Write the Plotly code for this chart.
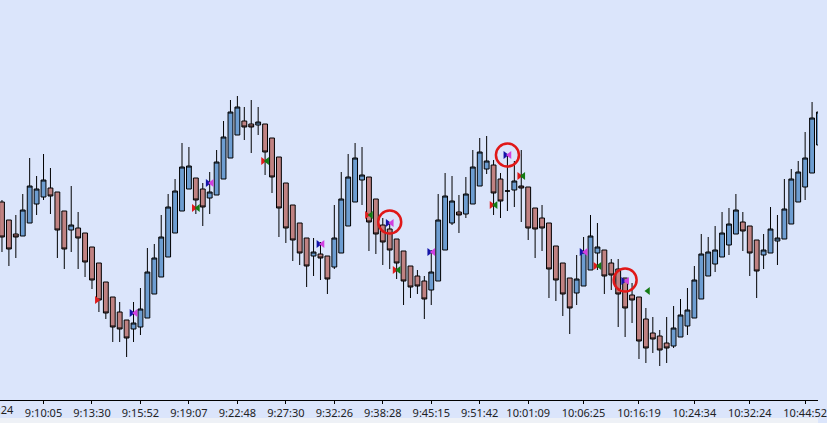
import plotly.graph_objects as go

# --- bougies (prix) ---
bars = list(range(119))
open_ = [198, 180, 166, 164, 177, 196, 203, 212, 208, 189, 170, 172, 167, 153, 137, 118, 103, 88, 80, 71,
         73, 82, 106, 123, 143, 167, 189, 211, 222, 211, 202, 205, 221, 242, 265, 279, 276, 275, 276, 262,
         243, 217, 195, 177, 162, 144, 146, 144, 133, 147, 174, 198, 220, 223, 201, 175, 171, 161, 149, 134,
         124, 119, 110, 119, 150, 177, 188, 186, 196, 214, 231, 235, 221, 209, 210, 214, 213, 192, 182, 177,
         154, 137, 122, 107, 114, 130, 147, 150, 137, 131, 122, 105, 103, 81, 67, 64, 57, 54, 63, 74,
         82, 101, 124, 136, 143, 155, 166, 178, 174, 160, 145, 147, 159, 161, 176, 198, 213, 227, 255]
high = [200, 180, 185, 206, 242, 224, 246, 232, 208, 189, 214, 188, 167, 153, 137, 118, 103, 98, 80, 98,
        112, 152, 156, 185, 206, 221, 257, 253, 222, 217, 228, 250, 279, 300, 304, 293, 300, 293, 276, 262,
        243, 217, 195, 177, 162, 162, 158, 144, 195, 228, 246, 257, 253, 223, 201, 182, 178, 161, 149, 134,
        130, 124, 150, 206, 227, 224, 205, 223, 250, 262, 264, 240, 227, 245, 239, 250, 213, 192, 195, 177,
        154, 137, 122, 145, 163, 185, 177, 150, 141, 141, 122, 117, 103, 92, 83, 70, 83, 94, 101, 112,
        134, 166, 163, 174, 188, 192, 206, 188, 174, 160, 166, 193, 185, 221, 231, 239, 268, 298, 300]
low = [148, 134, 142, 164, 177, 185, 200, 186, 142, 131, 148, 131, 123, 111, 88, 81, 58, 58, 43, 58,
       65, 82, 106, 123, 143, 167, 189, 211, 186, 174, 186, 205, 221, 242, 265, 260, 247, 265, 225, 207,
       163, 157, 139, 135, 113, 124, 120, 106, 131, 147, 174, 198, 195, 149, 146, 135, 131, 121, 95, 102,
       106, 81, 95, 119, 150, 175, 167, 182, 196, 214, 226, 185, 182, 189, 193, 178, 160, 142, 149, 102,
       99, 84, 66, 95, 114, 130, 130, 106, 110, 73, 63, 77, 41, 37, 47, 34, 37, 52, 63, 65,
       82, 101, 124, 128, 143, 145, 166, 149, 124, 102, 131, 147, 135, 161, 176, 198, 200, 227, 255]
close = [163, 151, 163, 190, 214, 211, 220, 204, 170, 151, 175, 162, 138, 120, 100, 87, 73, 71, 62, 77,
         91, 128, 142, 163, 193, 209, 233, 234, 200, 193, 208, 238, 263, 288, 293, 273, 273, 278, 248, 223,
         192, 172, 160, 147, 134, 148, 142, 121, 162, 201, 223, 242, 225, 178, 166, 158, 150, 137, 119, 113,
         114, 101, 128, 180, 204, 199, 185, 206, 233, 248, 239, 207, 199, 209, 219, 212, 172, 171, 172, 131,
         120, 106, 92, 121, 148, 164, 153, 124, 125, 106, 92, 100, 59, 52, 61, 50, 52, 72, 85, 90,
         120, 146, 148, 150, 167, 176, 190, 169, 147, 129, 150, 171, 162, 191, 221, 228, 242, 282, 288]

# --- signaux ---
rg_bars = [28, 38, 53, 57, 71, 75, 86]
rg_price = [192, 239, 185, 130, 195, 224, 134]
red_only_bars = [14]
red_only_price = [100]
green_only_bars = [93]
green_only_price = [109]
bm_bars = [19, 30, 46, 56, 62, 73, 84, 90]
bm_price = [87, 217, 156, 177, 148, 245, 148, 119]
circle_bars = [56, 73, 90]
circle_price = [178, 245, 120]

# --- axe des temps ---
tick_bars = [6, 13, 20, 27, 34, 41, 48, 55, 62, 69, 76, 84, 92, 100, 108, 116]
tick_labels = ["9:10:05", "9:13:30", "9:15:52", "9:19:07", "9:22:48", "9:27:30", "9:32:26", "9:38:28",
               "9:45:15", "9:51:42", "10:01:09", "10:06:25", "10:16:19", "10:24:34", "10:32:24", "10:44:52"]
first_tick_bar = -1
first_tick_label = "9:07:24"

BG = "#dbe5fb"
FONT = dict(family="Noto Sans, Open Sans, sans-serif", size=11, color="#222222")
OFF = 0.3
x_range = [-2 / 7, 825 / 7]

fig = go.Figure()
fig.add_trace(go.Candlestick(
    x=bars, open=open_, high=high, low=low, close=close,
    increasing=dict(fillcolor="#6d9dd1", line=dict(color="black", width=1)),
    decreasing=dict(fillcolor="#c08282", line=dict(color="black", width=1)),
    whiskerwidth=0, hoverinfo="skip", showlegend=False,
))


def tri(xs, ys, symbol, color):
    fig.add_trace(go.Scatter(x=xs, y=ys, mode="markers", hoverinfo="skip", showlegend=False,
                             marker=dict(symbol=symbol, size=7, color=color, line=dict(width=0))))


tri([b - OFF for b in rg_bars], rg_price, "triangle-right", "#e01b1b")
tri([b + OFF for b in rg_bars], rg_price, "triangle-left", "#137a13")
tri([b - OFF for b in red_only_bars], red_only_price, "triangle-right", "#e01b1b")
tri([b + OFF for b in green_only_bars], green_only_price, "triangle-left", "#137a13")
tri([b - OFF for b in bm_bars], bm_price, "triangle-right", "#1414a8")
tri([b + OFF for b in bm_bars], bm_price, "triangle-left", "#d040e0")

fig.add_trace(go.Scatter(
    x=circle_bars, y=circle_price, mode="markers", hoverinfo="skip", showlegend=False,
    marker=dict(symbol="circle-open", size=23, color="#e01818", line=dict(width=2.5, color="#e01818")),
))

fig.add_annotation(
    x=(first_tick_bar - x_range[0]) / (x_range[1] - x_range[0]), xref="paper",
    y=-0.025, yref="paper", text=first_tick_label, showarrow=False,
    xanchor="center", yanchor="middle", font=FONT,
)
fig.add_shape(type="rect", xref="paper", yref="paper", x0=0, x1=1, y0=-0.2, y1=-0.045,
              fillcolor="#eef1f6", line=dict(width=0), layer="below")

fig.update_layout(
    width=827, height=423,
    margin=dict(l=0, r=0, t=0, b=23),
    paper_bgcolor=BG, plot_bgcolor=BG,
    font=FONT, hovermode=False,
    boxgap=0.3, boxgroupgap=0,
)
fig.update_xaxes(
    range=x_range, rangeslider_visible=False, showgrid=False, zeroline=False,
    showline=True, linecolor="black", linewidth=1,
    ticks="outside", ticklen=3, tickcolor="black", ticklabeloverflow="allow",
    tickvals=tick_bars, ticktext=tick_labels, tickfont=FONT,
)
fig.update_yaxes(range=[0, 400], visible=False, showgrid=False, zeroline=False)

fig.write_html("out.html", config={"displayModeBar": False},
               post_script="document.body.style.margin='0';")
